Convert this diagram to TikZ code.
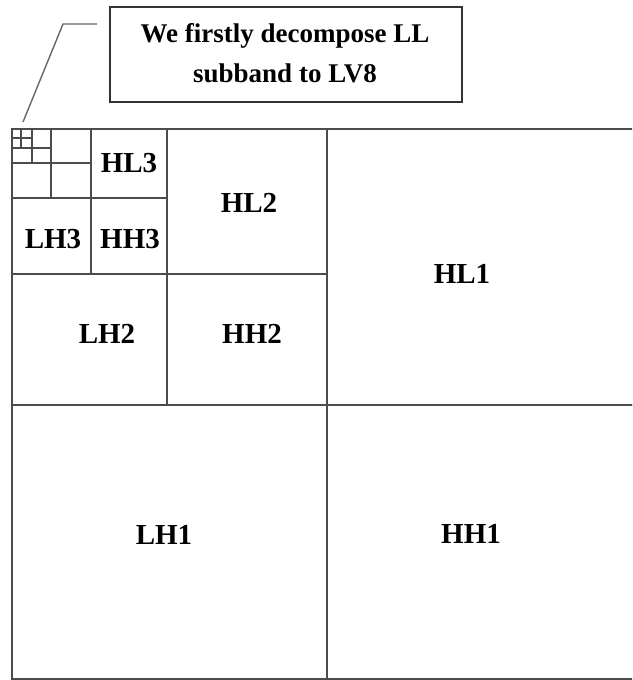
\documentclass[tikz,border=0pt]{standalone}
\usepackage{fontspec}
\setmainfont{Liberation Serif}
\begin{document}
\begin{tikzpicture}[x=1pt,y=-1pt,
  cell/.style={draw=black!70, line width=1.1pt, inner sep=0pt, outer sep=0pt},
  lab/.style={anchor=base, inner sep=0pt, font=\fontsize{29}{34}\selectfont\bfseries},
  callout/.style={draw=black!80, line width=1.4pt, inner sep=0pt, outer sep=0pt,
    minimum width=352pt, minimum height=95pt},
  ctext/.style={anchor=base, inner sep=0pt, font=\fontsize{27}{32}\selectfont\bfseries},
  leader/.style={draw=black!60, line width=1.4pt}]
\clip (0,0) rectangle (632,680);
\useasboundingbox (0,0) rectangle (632,680);
% level 1
\node[cell, minimum width=315pt, minimum height=276pt] (ll1) at (169.5,267) {};
\node[cell, minimum width=315pt, minimum height=276pt] (hl1) at (484.5,267) {};
\node[cell, minimum width=315pt, minimum height=274pt] (lh1) at (169.5,542) {};
\node[cell, minimum width=315pt, minimum height=274pt] (hh1) at (484.5,542) {};
% level 2
\node[cell, minimum width=160pt, minimum height=145pt] (hl2) at (247,201.5) {};
\node[cell, minimum width=155pt, minimum height=131pt] (lh2) at (89.5,339.5) {};
\node[cell, minimum width=160pt, minimum height=131pt] (hh2) at (247,339.5) {};
% level 3
\node[cell, minimum width=76pt, minimum height=69pt] (hl3) at (129,163.5) {};
\node[cell, minimum width=79pt, minimum height=76pt] (lh3) at (51.5,236) {};
\node[cell, minimum width=76pt, minimum height=76pt] (hh3) at (129,236) {};
% level 4
\node[cell, minimum width=40pt, minimum height=34pt] (hl4) at (71,146) {};
\node[cell, minimum width=39pt, minimum height=35pt] (lh4) at (31.5,180.5) {};
\node[cell, minimum width=40pt, minimum height=35pt] (hh4) at (71,180.5) {};
% level 5
\node[cell, minimum width=19pt, minimum height=19pt] (hl5) at (41.5,138.5) {};
\node[cell, minimum width=20pt, minimum height=15pt] (lh5) at (22,155.5) {};
\node[cell, minimum width=19pt, minimum height=15pt] (hh5) at (41.5,155.5) {};
% level 6
\node[cell, minimum width=9pt, minimum height=9pt] (ll6) at (16.5,133.5) {};
\node[cell, minimum width=11pt, minimum height=9pt] (hl6) at (26.5,133.5) {};
\node[cell, minimum width=9pt, minimum height=10pt] (lh6) at (16.5,143) {};
\node[cell, minimum width=11pt, minimum height=10pt] (hh6) at (26.5,143) {};
% labels
\node[lab] (thl3) at (129,172) {HL3};
\node[lab] (tlh3) at (53,248) {LH3};
\node[lab] (thh3) at (130,248) {HH3};
\node[lab] (thl2) at (249,212) {HL2};
\node[lab] (tlh2) at (107,343) {LH2};
\node[lab] (thh2) at (252,343) {HH2};
\node[lab] (thl1) at (462,283) {HL1};
\node[lab] (tlh1) at (164,544) {LH1};
\node[lab] (thh1) at (471,543) {HH1};
% callout
\node[callout] (box) at (286,54.5) {};
\node[ctext] (c1) at (285,42) {We firstly decompose LL};
\node[ctext] (c2) at (285,82) {subband to LV8};
\coordinate (p0) at (23,122);
\coordinate (p1) at (63,24);
\coordinate (p2) at (97,24);
\draw[leader] (p0) -- (p1) -- (p2);
\end{tikzpicture}
\end{document}
